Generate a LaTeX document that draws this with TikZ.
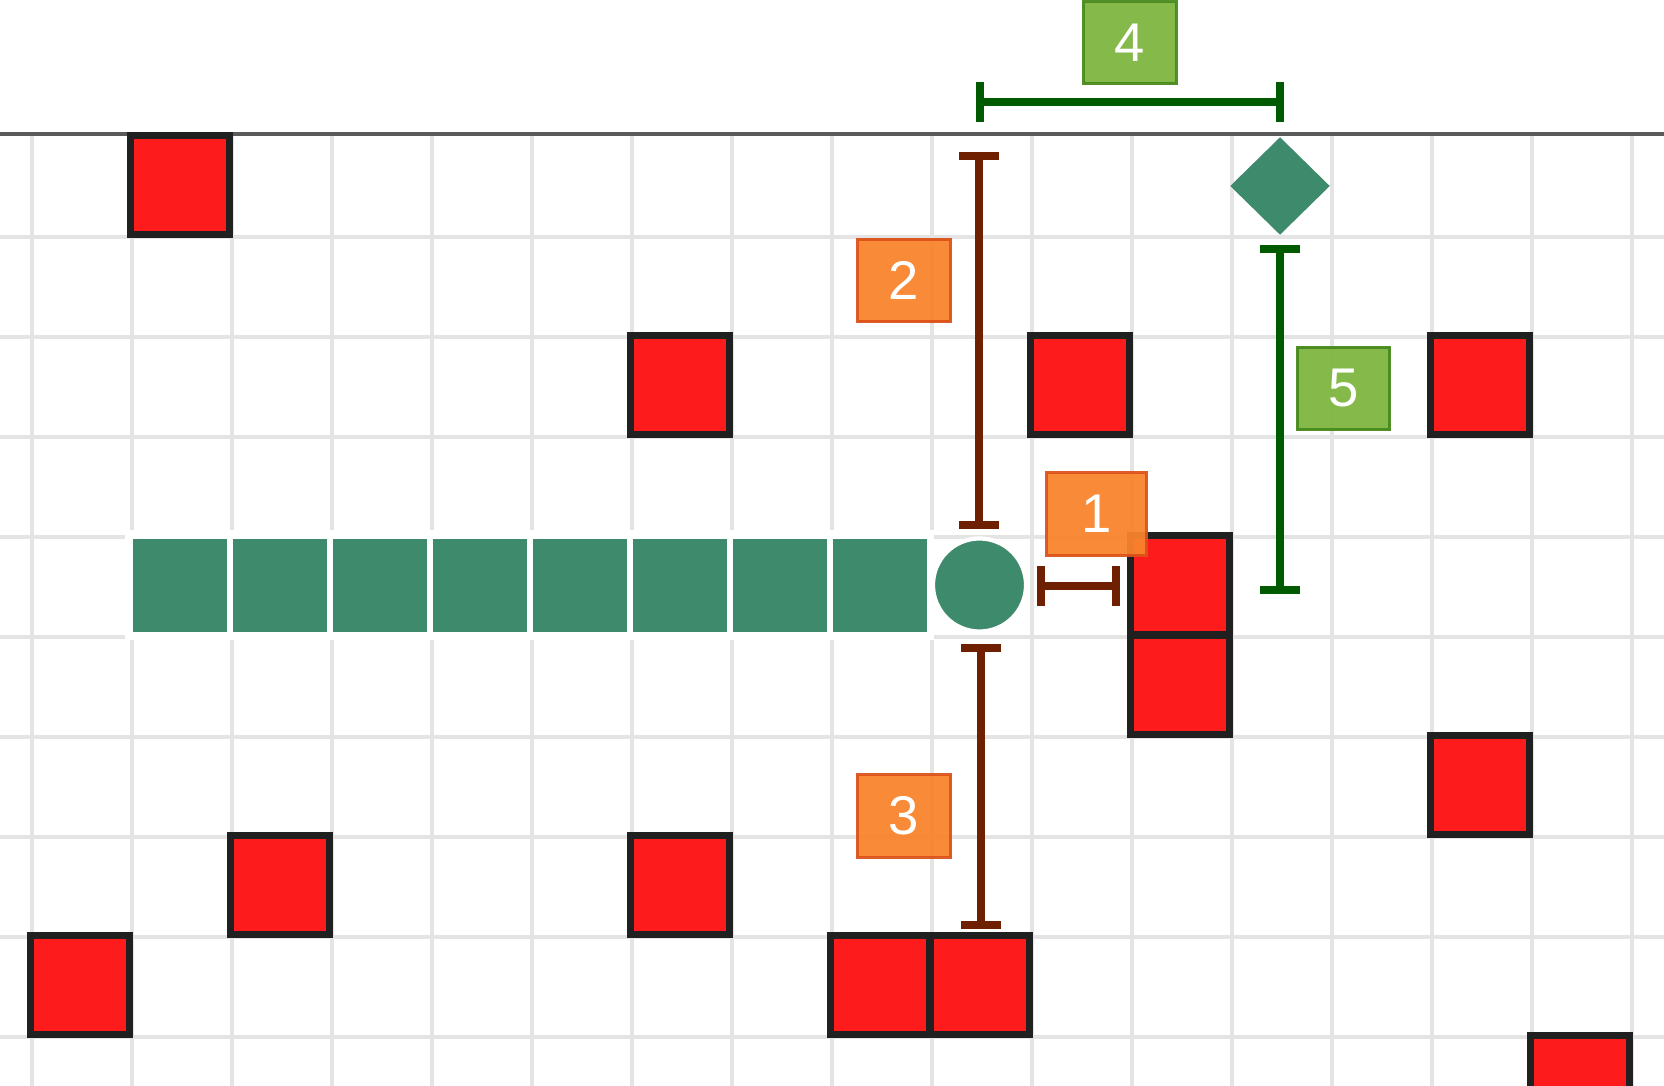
\documentclass[tikz,border=0pt]{standalone}
\usepackage{fontspec}
\setmainfont{Liberation Sans}
\usetikzlibrary{shapes.geometric}
\definecolor{cGrid}{RGB}{228,228,228}
\definecolor{cTop}{RGB}{90,90,90}
\definecolor{cRed}{RGB}{254,27,27}
\definecolor{cBorder}{RGB}{32,32,32}
\definecolor{cSnake}{RGB}{62,138,108}
\definecolor{cBrown}{RGB}{110,32,0}
\definecolor{cDkGreen}{RGB}{0,90,0}
\definecolor{cOrange}{RGB}{249,132,44}
\definecolor{cOrangeB}{RGB}{220,82,26}
\definecolor{cLGreen}{RGB}{126,182,64}
\definecolor{cLGreenB}{RGB}{72,138,28}
\begin{document}
\begin{tikzpicture}[x=0.01cm,y=-0.01cm,
  gridline/.style={draw=cGrid,line width=0.9pt},
  obstacle/.style={rectangle,draw=cBorder,fill=cRed,line width=2.2pt,minimum size=0.99cm,inner sep=0pt},
  seg/.style={rectangle,fill=cSnake,minimum width=0.94cm,minimum height=0.93cm,inner sep=0pt},
  brownline/.style={draw=cBrown,line width=2.3pt},
  greenline/.style={draw=cDkGreen,line width=2.3pt},
  labelbox/.style={rectangle,minimum width=0.92cm,minimum height=0.82cm,line width=0.85pt,
    fill opacity=0.94,draw opacity=0.94,text opacity=1,text=white,inner sep=0pt,
    font=\fontsize{15.5}{17}\selectfont},
  orangebox/.style={labelbox,fill=cOrange,draw=cOrangeB},
  greenbox/.style={labelbox,fill=cLGreen,draw=cLGreenB}]
\useasboundingbox (0,0) rectangle (1664,1086);
\fill[white] (0,0) rectangle (1664,1086);
% grid
\foreach \gx in {32,132,...,1632} \draw[gridline] (\gx,134) -- (\gx,1086);
\foreach \gy in {237,337,...,1037} \draw[gridline] (0,\gy) -- (1664,\gy);
\draw[draw=cTop,line width=1.1pt] (0,134) -- (1664,134);
% obstacles
\foreach \cx/\cy [count=\i] in {132/137,632/337,1032/337,1432/337,1132/537,1132/637,1432/737,232/837,632/837,32/937,832/937,932/937,1532/1037}
  \node[obstacle] (r\i) at (\cx+48,\cy+48) {};
% snake body
\fill[white] (125,530) rectangle (934,640);
\foreach \k in {0,...,7}
  \node[seg] (s\k) at (180+100*\k,585.5) {};
\node[circle,fill=cSnake,draw=white,line width=1.2pt,minimum size=0.93cm,inner sep=0pt] (head) at (979.5,585) {};
% food
\node[diamond,fill=cSnake,minimum width=1.0cm,minimum height=0.98cm,inner sep=0pt] (food) at (1280,186) {};
% dimension coordinates
\coordinate (b1l) at (1041,586);
\coordinate (b1r) at (1116,586);
\coordinate (b2t) at (979,156);
\coordinate (b2b) at (979,525);
\coordinate (b3t) at (981,648);
\coordinate (b3b) at (981,925);
\coordinate (g4l) at (980,102);
\coordinate (g4r) at (1280,102);
\coordinate (g5t) at (1280,249);
\coordinate (g5b) at (1280,590);
% brown dimension lines
\draw[brownline] (b1l) -- (b1r);
\draw[brownline] ([yshift=0.2cm]b1l) -- ([yshift=-0.2cm]b1l);
\draw[brownline] ([yshift=0.2cm]b1r) -- ([yshift=-0.2cm]b1r);
\draw[brownline] (b2t) -- (b2b);
\draw[brownline] ([xshift=-0.2cm]b2t) -- ([xshift=0.2cm]b2t);
\draw[brownline] ([xshift=-0.2cm]b2b) -- ([xshift=0.2cm]b2b);
\draw[brownline] (b3t) -- (b3b);
\draw[brownline] ([xshift=-0.2cm]b3t) -- ([xshift=0.2cm]b3t);
\draw[brownline] ([xshift=-0.2cm]b3b) -- ([xshift=0.2cm]b3b);
% green dimension lines
\draw[greenline] (g4l) -- (g4r);
\draw[greenline] ([yshift=0.2cm]g4l) -- ([yshift=-0.2cm]g4l);
\draw[greenline] ([yshift=0.2cm]g4r) -- ([yshift=-0.2cm]g4r);
\draw[greenline] (g5t) -- (g5b);
\draw[greenline] ([xshift=-0.2cm]g5t) -- ([xshift=0.2cm]g5t);
\draw[greenline] ([xshift=-0.2cm]g5b) -- ([xshift=0.2cm]g5b);
% labels
\node[orangebox,minimum width=0.99cm] (L1) at (1096.5,514) {1};
\node[orangebox] (L2) at (904,280.5) {2};
\node[orangebox] (L3) at (904,816) {3};
\node[greenbox,minimum height=0.81cm] (L4) at (1130,42.5) {4};
\node[greenbox] (L5) at (1343.5,388.5) {5};
\end{tikzpicture}
\end{document}
